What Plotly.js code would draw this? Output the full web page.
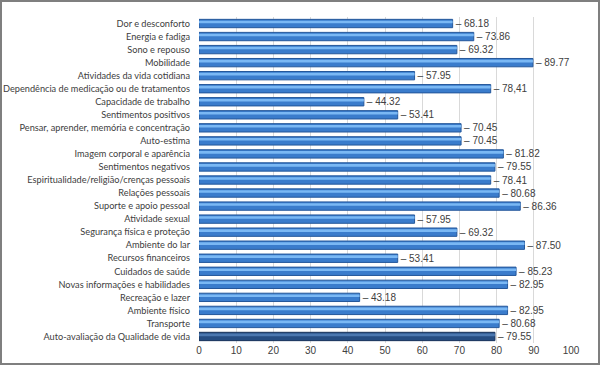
<!DOCTYPE html>
<html><head><meta charset="utf-8">
<script src="https://cdn.plot.ly/plotly-3.0.1.min.js"></script>
<style>
html,body{margin:0;padding:0;background:#fff;}
#wrap{position:relative;width:600px;height:365px;}
#chart{width:600px;height:365px;}
#frame{position:absolute;left:0;top:0;width:600px;height:365px;box-sizing:border-box;border:2px solid #7f7f7f;pointer-events:none;}
</style></head>
<body><div id="wrap"><div id="chart"></div><div id="frame"></div></div>
<script>
const categories = [
 "Dor e desconforto","Energia e fadiga","Sono e repouso","Mobilidade",
 "Atividades da vida cotidiana","Dependência de medicação ou de tratamentos",
 "Capacidade de trabalho","Sentimentos positivos",
 "Pensar, aprender, memória e concentração","Auto-estima",
 "Imagem corporal e aparência","Sentimentos negativos",
 "Espiritualidade/religião/crenças pessoais","Relações pessoais",
 "Suporte e apoio pessoal","Atividade sexual","Segurança física e proteção",
 "Ambiente do lar","Recursos financeiros","Cuidados de saúde",
 "Novas informações e habilidades","Recreação e lazer","Ambiente físico",
 "Transporte","Auto-avaliação da Qualidade de vida"];
const values = [68.18,73.86,69.32,89.77,57.95,78.41,44.32,53.41,70.45,70.45,
 81.82,79.55,78.41,80.68,86.36,57.95,69.32,87.50,53.41,85.23,82.95,43.18,82.95,80.68,79.55];
const valueLabels = ["68.18","73.86","69.32","89.77","57.95","78,41","44.32","53.41","70.45","70.45",
 "81.82","79.55","78.41","80.68","86.36","57.95","69.32","87.50","53.41","85.23","82.95","43.18","82.95","80.68","79.55"];
const tickVals = [0,10,20,30,40,50,60,70,80,90,100];

const n = categories.length;
const baseColors = categories.map((c,i)=> i===n-1 ? '#254d82' : '#3a7ccc');
const lineColors = categories.map((c,i)=> i===n-1 ? '#17325a' : '#24579a');
const hiColors = categories.map((c,i)=> i===n-1 ? '#4b78b0' : '#7ab8f4');
const font = {family:'Lato,"Liberation Sans",Arial,sans-serif', size:9.2, color:'#404040'};
const valFont = {family:'"Liberation Sans",Arial,sans-serif', size:10, color:'#404040'};

const traces = [
 {type:'bar', orientation:'h', y:categories, x:values, width:0.64,
  marker:{color:baseColors, line:{color:lineColors, width:1}},
  text:valueLabels.map(v=>'– '+v), textposition:'outside', cliponaxis:false,
  constraintext:'none', textfont:valFont, hoverinfo:'none'},
 {type:'bar', orientation:'h', y:categories, x:values, width:0.2, offset:-0.22,
  marker:{color:hiColors, line:{width:0}}, hoverinfo:'none'}
];
const layout = {
 width:600, height:365, margin:{l:199, r:29, t:17, b:22},
 paper_bgcolor:'#fff', plot_bgcolor:'#fff', showlegend:false, barmode:'overlay',
 font:font,
 xaxis:{range:[0,100], tickvals:tickVals, showgrid:true, gridcolor:'#d9d9d9', gridwidth:1,
  zeroline:false, showline:false, ticks:'', tickfont:valFont, fixedrange:true},
 yaxis:{autorange:'reversed', type:'category', showgrid:false, zeroline:false,
  showline:false, ticks:'', ticklen:0, ticklabelstandoff:8, tickfont:font, automargin:false, fixedrange:true}
};
Plotly.newPlot('chart', traces, layout, {staticPlot:true, displayModeBar:false});
</script></body></html>
